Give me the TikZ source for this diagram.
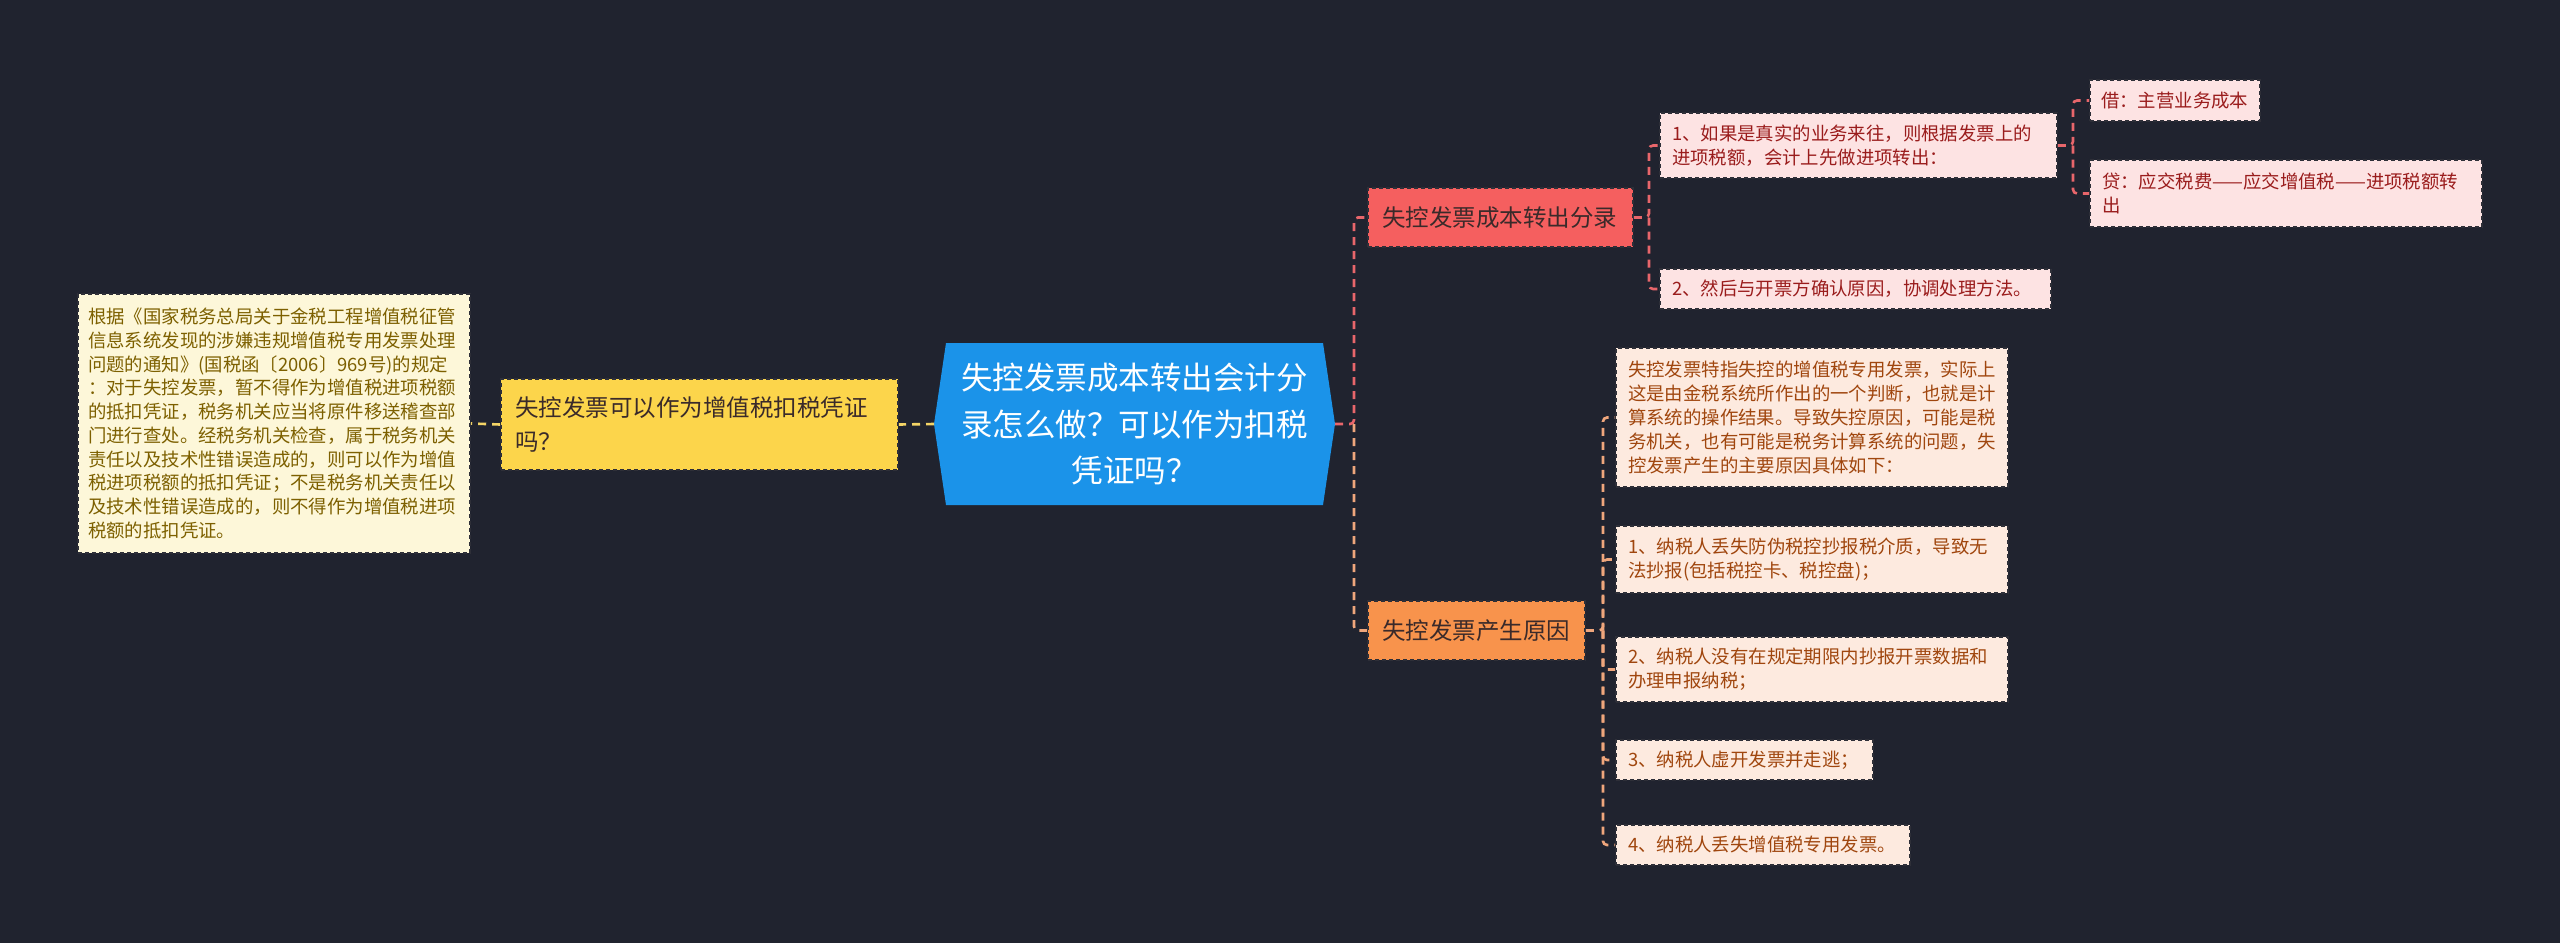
\documentclass[tikz,border=0pt]{standalone}
\usepackage{fontspec}
\setmainfont{Noto Sans CJK SC}
\usetikzlibrary{calc}
\definecolor{bg}{HTML}{20232F}
\definecolor{ctrblue}{HTML}{1B93E9}
\definecolor{yelfill}{HTML}{FCD54B}
\definecolor{paleyel}{HTML}{FDF7D9}
\definecolor{paleyeltext}{HTML}{7D6000}
\definecolor{redfill}{HTML}{F55F5F}
\definecolor{palered}{HTML}{FDE3E3}
\definecolor{paleredtext}{HTML}{9A1C1C}
\definecolor{ornfill}{HTML}{F8934C}
\definecolor{paleorn}{HTML}{FDEADF}
\definecolor{paleorntext}{HTML}{A0460E}
\definecolor{darktext}{HTML}{3A2A2A}
\definecolor{boxborder}{HTML}{2E2F38}
\definecolor{lnredc}{HTML}{E8666B}
\definecolor{lnornc}{HTML}{EFA67C}
\definecolor{lnyelc}{HTML}{F4D466}
\tikzset{
  box/.style={draw=boxborder, dash pattern=on 4pt off 3pt, line width=1.6pt, inner ysep=0pt, align=left},
  smallfont/.style={font=\fontsize{18.4}{24}\selectfont},
  midfont/.style={font=\fontsize{23.5}{34}\selectfont},
  conn/.style={line width=2.6pt, dash pattern=on 8pt off 6pt, rounded corners=4pt},
  lnred/.style={conn, draw=lnredc},
  lnorn/.style={conn, draw=lnornc},
  lnyel/.style={conn, draw=lnyelc},
  redleaf/.style={box, smallfont, fill=palered, text=paleredtext, inner xsep=12pt},
  ornleaf/.style={box, smallfont, fill=paleorn, text=paleorntext, inner xsep=12pt},
}
\begin{document}
\begin{tikzpicture}[x=1pt,y=-1pt]
\fill[bg] (0,0) rectangle (2560,943);
\useasboundingbox (0,0) rectangle (2560,943);

% central topic
\fill[ctrblue] (934,424) -- (946,343) -- (1323,343) -- (1335,424) -- (1323,505) -- (946,505) -- cycle;
\node (ctr) [text=white, align=center, text width=380pt, font=\fontsize{31.5}{46.5}\selectfont] at (1134.5,424)
  {失控发票成本转出会计分\\录怎么做？可以作为扣税\\凭证吗？};
\coordinate (ctrW) at (934,424);
\coordinate (ctrE) at (1335,424);

% left branch
\node (yel) [box, midfont, fill=yelfill, text=darktext, text width=369pt, inner xsep=14pt, minimum height=91pt] at (699.5,424.5)
  {失控发票可以作为增值税扣税凭证\\吗？};
\node (lbox) [box, font=\fontsize{18.4}{23.7}\selectfont, fill=paleyel, text=paleyeltext, text width=372pt, inner xsep=10pt, minimum height=259pt] at (274,423.5)
  {根据《国家税务总局关于金税工程增值税征管\\信息系统发现的涉嫌违规增值税专用发票处理\\问题的通知》(国税函〔2006〕969号)的规定\\：对于失控发票，暂不得作为增值税进项税额\\的抵扣凭证，税务机关应当将原件移送稽查部\\门进行查处。经税务机关检查，属于税务机关\\责任以及技术性错误造成的，则可以作为增值\\税进项税额的抵扣凭证；不是税务机关责任以\\及技术性错误造成的，则不得作为增值税进项\\税额的抵扣凭证。};

% right main branches
\node (red) [box, midfont, fill=redfill, text=darktext, text width=237pt, inner xsep=14pt, minimum height=59pt] at (1500.5,217.5) {失控发票成本转出分录};
\node (orn) [box, midfont, fill=ornfill, text=darktext, text width=189pt, inner xsep=14pt, minimum height=59pt] at (1476.5,630.5) {失控发票产生原因};

% red leaves
\node (r1) [redleaf, text width=373pt, minimum height=65pt] at (1858.5,145.5)
  {1、如果是真实的业务来往，则根据发票上的\\进项税额，会计上先做进项转出：};
\node (r2) [redleaf, text width=367pt, minimum height=40pt] at (1855.5,289)
  {2、然后与开票方确认原因，协调处理方法。};
\node (d1) [redleaf, text width=148pt, inner xsep=11pt, minimum height=41pt] at (2175,100.5)
  {借：主营业务成本};
\node (d2) [redleaf, text width=368pt, minimum height=67pt] at (2286,193.5)
  {贷：应交税费——应交增值税——进项税额转\\出};

% orange leaves
\node (o0) [ornleaf, text width=368pt, minimum height=139pt] at (1812,417.5)
  {失控发票特指失控的增值税专用发票，实际上\\这是由金税系统所作出的一个判断，也就是计\\算系统的操作结果。导致失控原因，可能是税\\务机关，也有可能是税务计算系统的问题，失\\控发票产生的主要原因具体如下：};
\node (o1) [ornleaf, text width=368pt, minimum height=67pt] at (1812,559.5)
  {1、纳税人丢失防伪税控抄报税介质，导致无\\法抄报(包括税控卡、税控盘)；};
\node (o2) [ornleaf, text width=368pt, minimum height=65pt] at (1812,669.5)
  {2、纳税人没有在规定期限内抄报开票数据和\\办理申报纳税；};
\node (o3) [ornleaf, text width=233pt, minimum height=40pt] at (1744.5,760)
  {3、纳税人虚开发票并走逃；};
\node (o4) [ornleaf, text width=270pt, minimum height=40pt] at (1763,845)
  {4、纳税人丢失增值税专用发票。};

% junctions
\coordinate (j1) at (1354,424);
\coordinate (j2) at (1649,217.5);
\coordinate (j3) at (2073,145.5);
\coordinate (j4) at (1603,630.5);

% connectors
\draw[lnyel] (ctrW) -- (yel.east);
\draw[lnyel] (yel.west) -- (lbox.east);
\draw[lnred] (ctrE) -- (j1) |- (red.west);
\draw[lnorn] (j1) |- (orn.west);
\draw[lnred] (red.east) -- (j2) |- (r1.west);
\draw[lnred] (j2) |- (r2.west);
\draw[lnred] (r1.east) -- (j3) |- (d1.west);
\draw[lnred] (j3) |- (d2.west);
\draw[lnorn] (orn.east) -- (j4) |- (o0.west);
\draw[lnorn] (j4) |- (o1.west);
\draw[lnorn] (j4) |- (o2.west);
\draw[lnorn] (j4) |- (o3.west);
\draw[lnorn] (j4) |- (o4.west);
\end{tikzpicture}
\end{document}
